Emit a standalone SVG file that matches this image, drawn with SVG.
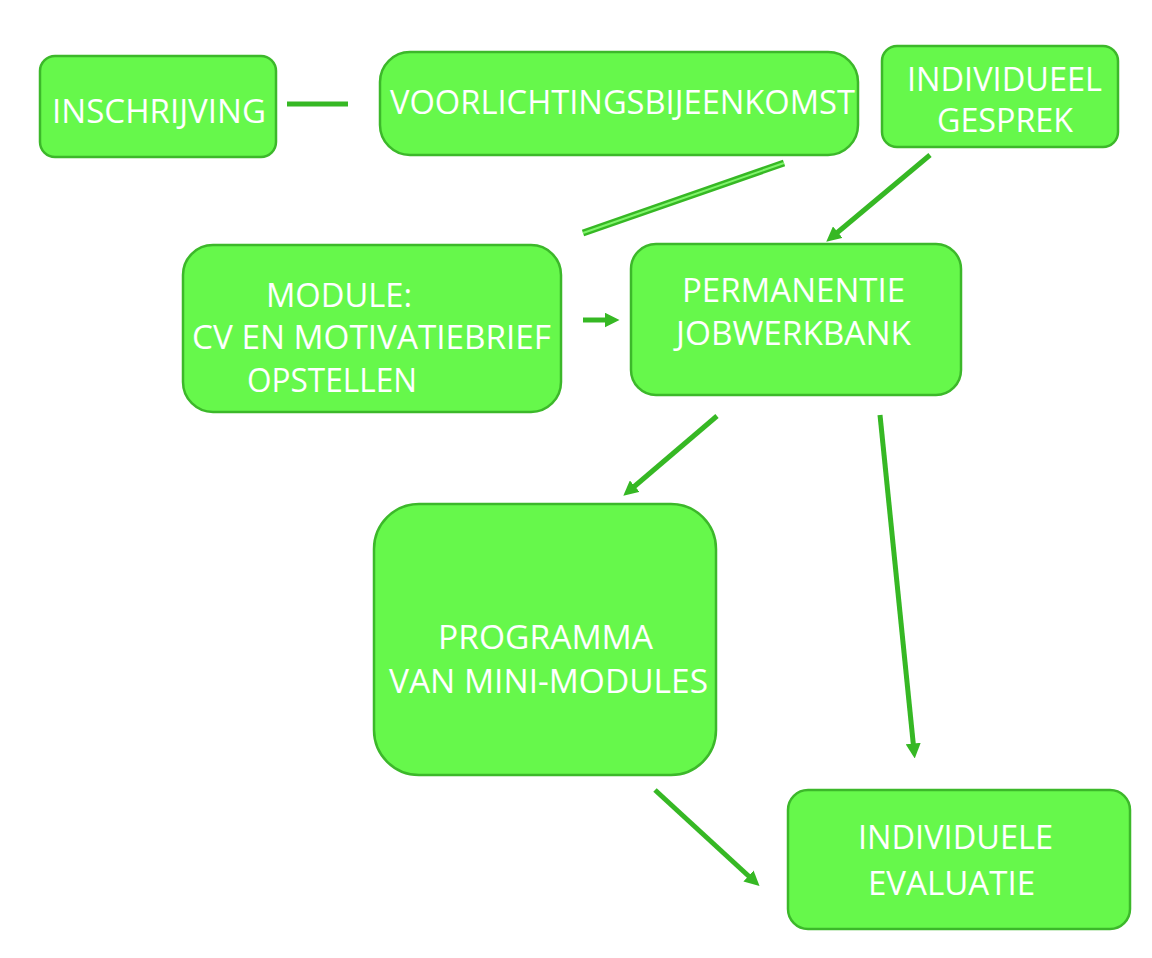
<svg xmlns="http://www.w3.org/2000/svg" width="1152" height="958" viewBox="0 0 1152 958">
<defs>
<style>
.box{fill:#66f84b;stroke:#3cb82a;stroke-width:2.5}
.t{fill:#ffffff;font-family:"Open Sans","Liberation Sans",sans-serif;font-size:32px}
.c{stroke:#36b824;stroke-width:5;fill:none}
</style>
<marker id="ah" markerWidth="3" markerHeight="3" refX="1.5" refY="1.5" orient="auto" markerUnits="strokeWidth">
<path d="M0,0 L3,1.5 L0,3 Z" fill="#36b824"/>
</marker>
</defs>
<rect width="1152" height="958" fill="#ffffff"/>
<g id="connectors">
<line class="c" x1="287" y1="104" x2="348" y2="104"/>
<line x1="583" y1="233" x2="784" y2="163" stroke="#36b824" stroke-width="7"/>
<line x1="583" y1="233" x2="784" y2="163" stroke="#7ff56a" stroke-width="2"/>
<line class="c" x1="930" y1="155" x2="832" y2="237" marker-end="url(#ah)"/>
<line class="c" x1="583" y1="320" x2="612" y2="320" marker-end="url(#ah)"/>
<line class="c" x1="717" y1="416" x2="629" y2="491" marker-end="url(#ah)"/>
<line class="c" x1="880" y1="415" x2="914" y2="751" marker-end="url(#ah)"/>
<line class="c" x1="655" y1="790" x2="754" y2="881" marker-end="url(#ah)"/>
</g>
<g id="inschrijving">
<rect class="box" x="40" y="56" width="236" height="101" rx="15"/>
<text class="t" x="52" y="123" textLength="214" lengthAdjust="spacingAndGlyphs">INSCHRIJVING</text>
</g>
<g id="voorlichtingsbijeenkomst">
<rect class="box" x="380" y="52" width="478" height="103" rx="30"/>
<text class="t" x="390" y="114" textLength="465" lengthAdjust="spacingAndGlyphs">VOORLICHTINGSBIJEENKOMST</text>
</g>
<g id="individueel-gesprek">
<rect class="box" x="882" y="46" width="236" height="101" rx="15"/>
<text class="t" x="907" y="91" textLength="195" lengthAdjust="spacingAndGlyphs">INDIVIDUEEL</text>
<text class="t" x="937" y="132" textLength="136" lengthAdjust="spacingAndGlyphs">GESPREK</text>
</g>
<g id="module">
<rect class="box" x="183" y="245" width="378" height="167" rx="30"/>
<text class="t" x="266" y="307" textLength="146" lengthAdjust="spacingAndGlyphs">MODULE:</text>
<text class="t" x="192" y="349" textLength="359" lengthAdjust="spacingAndGlyphs">CV EN MOTIVATIEBRIEF</text>
<text class="t" x="247" y="392" textLength="170" lengthAdjust="spacingAndGlyphs">OPSTELLEN</text>
</g>
<g id="permanentie">
<rect class="box" x="631" y="244" width="330" height="151" rx="25"/>
<text class="t" x="682" y="302" textLength="223" lengthAdjust="spacingAndGlyphs">PERMANENTIE</text>
<text class="t" x="676" y="345" textLength="235" lengthAdjust="spacingAndGlyphs">JOBWERKBANK</text>
</g>
<g id="programma">
<rect class="box" x="374" y="504" width="342" height="271" rx="45"/>
<text class="t" x="438" y="649" textLength="215" lengthAdjust="spacingAndGlyphs">PROGRAMMA</text>
<text class="t" x="389" y="693" textLength="319" lengthAdjust="spacingAndGlyphs">VAN MINI-MODULES</text>
</g>
<g id="evaluatie">
<rect class="box" x="788" y="790" width="342" height="139" rx="20"/>
<text class="t" x="858" y="849" textLength="195" lengthAdjust="spacingAndGlyphs">INDIVIDUELE</text>
<text class="t" x="868" y="895" textLength="167" lengthAdjust="spacingAndGlyphs">EVALUATIE</text>
</g>
</svg>
